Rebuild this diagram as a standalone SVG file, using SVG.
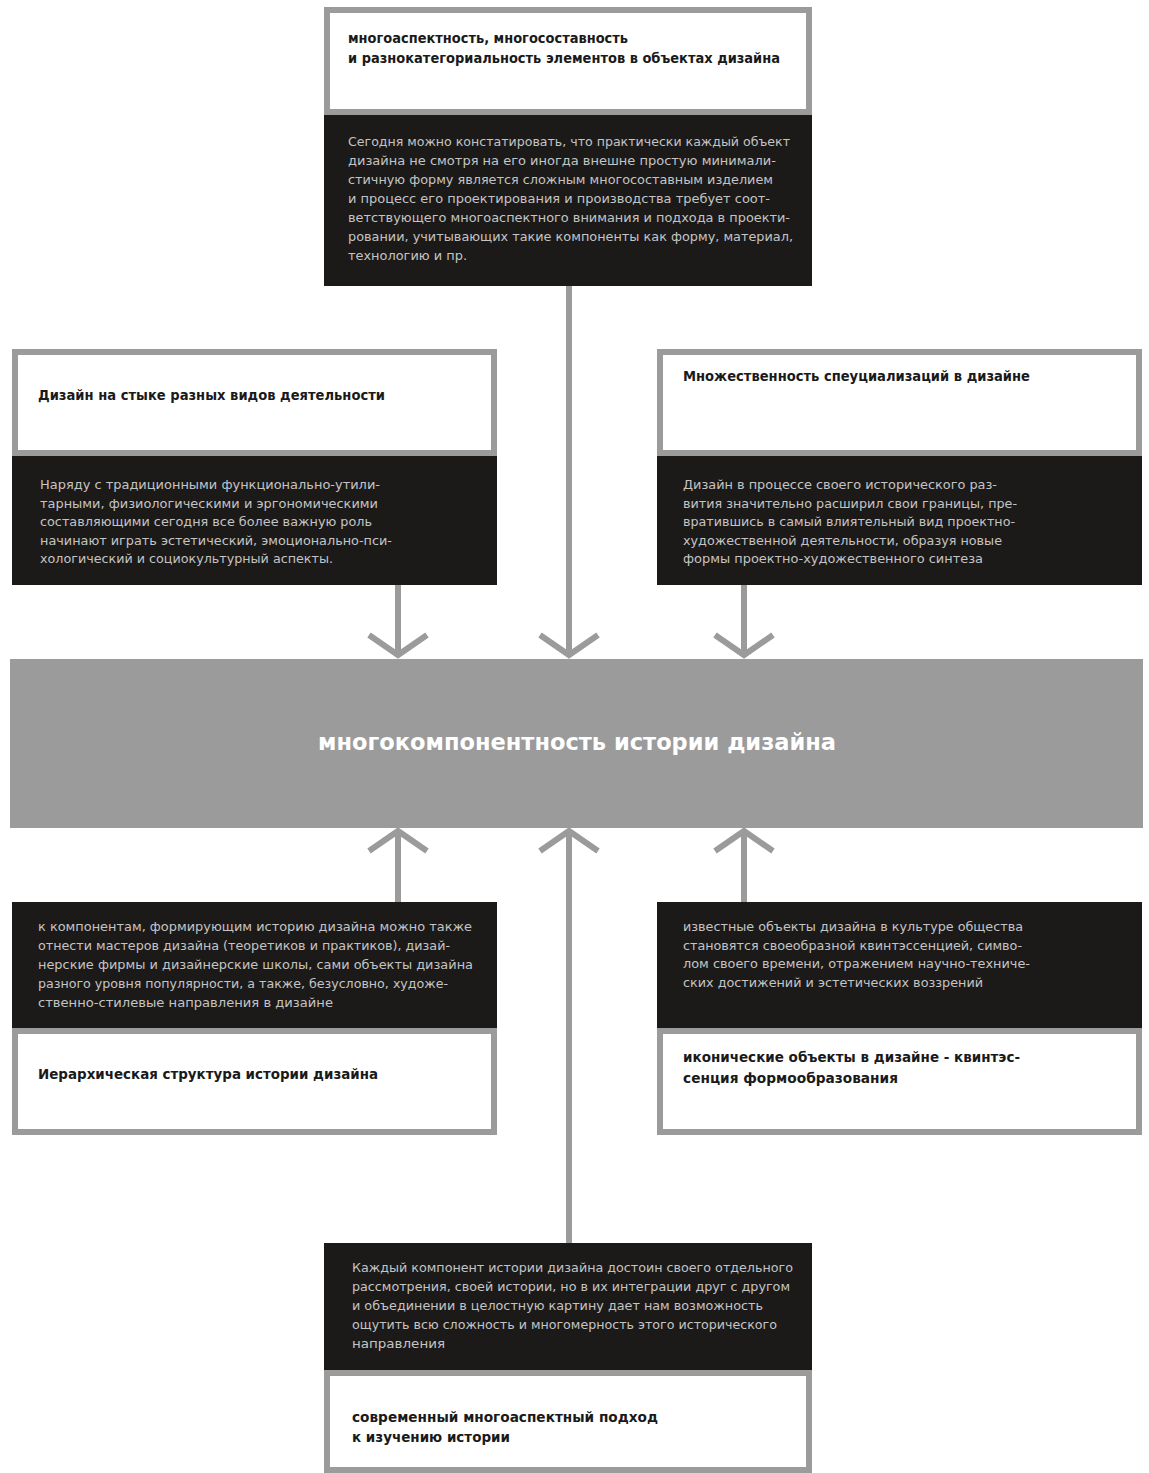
<svg xmlns="http://www.w3.org/2000/svg" width="1149" height="1473" viewBox="0 0 1149 1473">
<style>
.frame{fill:#ffffff;stroke:#9b9b9b;stroke-width:6}
.dark{fill:#1c1a19}
.bar{fill:#9b9b9b}
.title{font-family:"DejaVu Sans","Liberation Sans",sans-serif;font-weight:bold;font-size:14px;fill:#1a1a1a}
.body{font-family:"DejaVu Sans","Liberation Sans",sans-serif;font-size:12.5px;fill:#c4c4c4}
.main{font-family:"DejaVu Sans","Liberation Sans",sans-serif;font-weight:bold;font-size:23px;fill:#ffffff}
.conn{stroke:#9b9b9b;stroke-width:6;fill:none}
</style>
<defs>
<marker id="chev" markerUnits="userSpaceOnUse" orient="auto" overflow="visible" markerWidth="1" markerHeight="1" refX="0" refY="0">
<path d="M-20,-29 L0,0 L-20,29" fill="none" stroke="#9b9b9b" stroke-width="6"/>
</marker>
</defs>

<g id="connectors">
<line class="conn" x1="569" y1="286" x2="569" y2="655" marker-end="url(#chev)"/>
<line class="conn" x1="398" y1="585" x2="398" y2="655" marker-end="url(#chev)"/>
<line class="conn" x1="744" y1="585" x2="744" y2="655" marker-end="url(#chev)"/>
<line class="conn" x1="398" y1="902" x2="398" y2="831" marker-end="url(#chev)"/>
<line class="conn" x1="569" y1="1243" x2="569" y2="831" marker-end="url(#chev)"/>
<line class="conn" x1="744" y1="902" x2="744" y2="831" marker-end="url(#chev)"/>
</g>

<g id="node-top">
<rect class="frame" x="327" y="10" width="482" height="102"/>
<rect class="dark" x="324" y="115" width="488" height="171"/>
<text class="title" x="348" y="43" textLength="280" lengthAdjust="spacingAndGlyphs">многоаспектность, многосоставность</text>
<text class="title" x="348" y="63" textLength="432" lengthAdjust="spacingAndGlyphs">и разнокатегориальность элементов в объектах дизайна</text>
<text class="body" x="348" y="146" textLength="442" lengthAdjust="spacingAndGlyphs">Сегодня можно констатировать, что практически каждый объект</text>
<text class="body" x="348" y="165" textLength="428" lengthAdjust="spacingAndGlyphs">дизайна не смотря на его иногда внешне простую минимали-</text>
<text class="body" x="348" y="184" textLength="425" lengthAdjust="spacingAndGlyphs">стичную форму является сложным многосоставным изделием</text>
<text class="body" x="348" y="203" textLength="422" lengthAdjust="spacingAndGlyphs">и процесс его проектирования и производства требует соот-</text>
<text class="body" x="348" y="222" textLength="442" lengthAdjust="spacingAndGlyphs">ветствующего многоаспектного внимания и подхода в проекти-</text>
<text class="body" x="348" y="241" textLength="445" lengthAdjust="spacingAndGlyphs">ровании, учитывающих  такие компоненты как форму, материал,</text>
<text class="body" x="348" y="260" textLength="119" lengthAdjust="spacingAndGlyphs">технологию и пр.</text>
</g>

<g id="node-left">
<rect class="frame" x="15" y="352" width="479" height="101"/>
<rect class="dark" x="12" y="456" width="485" height="129"/>
<text class="title" x="38" y="400" textLength="347" lengthAdjust="spacingAndGlyphs">Дизайн на стыке разных видов деятельности</text>
<text class="body" x="40" y="489" textLength="340" lengthAdjust="spacingAndGlyphs">Наряду с традиционными функционально-утили-</text>
<text class="body" x="40" y="507.5" textLength="338" lengthAdjust="spacingAndGlyphs">тарными, физиологическими и эргономическими</text>
<text class="body" x="40" y="526" textLength="332" lengthAdjust="spacingAndGlyphs">составляющими сегодня все более важную роль</text>
<text class="body" x="40" y="544.5" textLength="352" lengthAdjust="spacingAndGlyphs">начинают играть эстетический, эмоционально-пси-</text>
<text class="body" x="40" y="563" textLength="293" lengthAdjust="spacingAndGlyphs">хологический и социокультурный аспекты.</text>
</g>

<g id="node-right">
<rect class="frame" x="660" y="352" width="479" height="101"/>
<rect class="dark" x="657" y="456" width="485" height="129"/>
<text class="title" x="683" y="381" textLength="347" lengthAdjust="spacingAndGlyphs">Множественность спеуциализаций в дизайне</text>
<text class="body" x="683" y="489" textLength="314" lengthAdjust="spacingAndGlyphs">Дизайн в процессе своего исторического раз-</text>
<text class="body" x="683" y="507.5" textLength="334" lengthAdjust="spacingAndGlyphs">вития значительно расширил свои границы, пре-</text>
<text class="body" x="683" y="526" textLength="332" lengthAdjust="spacingAndGlyphs">вратившись в самый влиятельный вид проектно-</text>
<text class="body" x="683" y="544.5" textLength="319" lengthAdjust="spacingAndGlyphs">художественной деятельности, образуя новые</text>
<text class="body" x="683" y="563" textLength="300" lengthAdjust="spacingAndGlyphs">формы проектно-художественного синтеза</text>
</g>

<g id="node-center">
<rect class="bar" x="10" y="659" width="1133" height="169"/>
<text class="main" x="318" y="750" textLength="518" lengthAdjust="spacingAndGlyphs">многокомпонентность истории дизайна</text>
</g>

<g id="node-bottom-left">
<rect class="dark" x="12" y="902" width="485" height="126"/>
<rect class="frame" x="15" y="1031" width="479" height="101"/>
<text class="body" x="38" y="931" textLength="434" lengthAdjust="spacingAndGlyphs">к компонентам, формирующим историю дизайна можно также</text>
<text class="body" x="38" y="950" textLength="412" lengthAdjust="spacingAndGlyphs">отнести мастеров дизайна (теоретиков и практиков), дизай-</text>
<text class="body" x="38" y="969" textLength="435" lengthAdjust="spacingAndGlyphs">нерские фирмы и дизайнерские школы, сами объекты дизайна</text>
<text class="body" x="38" y="988" textLength="410" lengthAdjust="spacingAndGlyphs">разного уровня популярности, а также, безусловно, художе-</text>
<text class="body" x="38" y="1007" textLength="295" lengthAdjust="spacingAndGlyphs">ственно-стилевые направления в дизайне</text>
<text class="title" x="38" y="1079" textLength="340" lengthAdjust="spacingAndGlyphs">Иерархическая структура истории дизайна</text>
</g>

<g id="node-bottom-right">
<rect class="dark" x="657" y="902" width="485" height="126"/>
<rect class="frame" x="660" y="1031" width="479" height="101"/>
<text class="body" x="683" y="931" textLength="340" lengthAdjust="spacingAndGlyphs">известные объекты дизайна в культуре общества</text>
<text class="body" x="683" y="949.5" textLength="339" lengthAdjust="spacingAndGlyphs">становятся своеобразной квинтэссенцией, симво-</text>
<text class="body" x="683" y="968" textLength="347" lengthAdjust="spacingAndGlyphs">лом своего времени, отражением научно-техниче-</text>
<text class="body" x="683" y="986.5" textLength="300" lengthAdjust="spacingAndGlyphs">ских достижений и эстетических воззрений</text>
<text class="title" x="683" y="1062" textLength="337" lengthAdjust="spacingAndGlyphs">иконические объекты в дизайне - квинтэс-</text>
<text class="title" x="683" y="1083" textLength="215" lengthAdjust="spacingAndGlyphs">сенция формообразования</text>
</g>

<g id="node-bottom">
<rect class="dark" x="324" y="1243" width="488" height="127"/>
<rect class="frame" x="327" y="1373" width="482" height="97"/>
<text class="body" x="352" y="1272" textLength="441" lengthAdjust="spacingAndGlyphs">Каждый компонент истории дизайна достоин своего отдельного</text>
<text class="body" x="352" y="1291" textLength="438" lengthAdjust="spacingAndGlyphs">рассмотрения, своей истории, но в их интеграции друг с другом</text>
<text class="body" x="352" y="1310" textLength="411" lengthAdjust="spacingAndGlyphs">и объединении в целостную картину дает нам возможность</text>
<text class="body" x="352" y="1329" textLength="425" lengthAdjust="spacingAndGlyphs">ощутить всю сложность и многомерность этого исторического</text>
<text class="body" x="352" y="1348" textLength="93" lengthAdjust="spacingAndGlyphs">направления</text>
<text class="title" x="352" y="1422" textLength="306" lengthAdjust="spacingAndGlyphs">современный многоаспектный подход</text>
<text class="title" x="352" y="1442" textLength="158" lengthAdjust="spacingAndGlyphs">к изучению истории</text>
</g>
</svg>
